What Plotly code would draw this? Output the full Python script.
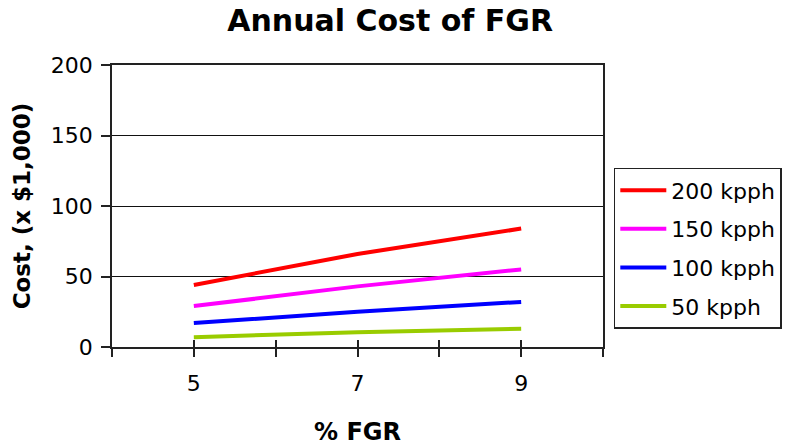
import plotly.graph_objects as go

# % flue gas recirculation
fgr_pct = [5, 7, 9]

# Annual cost (x $1,000) by boiler steam rate
cost_200 = [44, 66, 84]
cost_150 = [29, 43, 55]
cost_100 = [17, 25, 32]
cost_50 = [7, 10.5, 13]

series_names = ["200 kpph", "150 kpph", "100 kpph", "50 kpph"]
series_values = [cost_200, cost_150, cost_100, cost_50]
series_colors = ["#ff0000", "#ff00ff", "#0000ff", "#99cc00"]

x_tickvals = [4, 5, 6, 7, 8, 9, 10]
x_ticktext = ["", "5", "", "7", "", "9", ""]
y_tickvals = [0, 50, 100, 150, 200]

FONT = "DejaVu Sans, Arial, sans-serif"

fig = go.Figure()
for name, vals, color in zip(series_names, series_values, series_colors):
    fig.add_trace(go.Scatter(
        x=fgr_pct, y=vals, mode="lines", name=name,
        legendgroup=name,
        line=dict(color=color, width=4),
    ))

# invisible trace on a twin x-axis, used only for the inward half of the ticks
fig.add_trace(go.Scatter(x=[fgr_pct[0]], y=[0], xaxis="x2", mode="markers",
                         marker=dict(opacity=0), showlegend=False, hoverinfo="skip"))

fig.update_layout(
    width=785, height=446,
    margin=dict(l=112, r=182, t=65, b=99, autoexpand=False),
    paper_bgcolor="white", plot_bgcolor="white",
    font=dict(family=FONT, color="black", size=22),
    title=dict(text="<b>Annual Cost of FGR</b>", x=0.497, xanchor="center",
               y=0.953, yanchor="middle", font=dict(size=30, family=FONT)),
    xaxis=dict(
        range=[4, 10], tickmode="array", tickvals=x_tickvals, ticktext=x_ticktext,
        ticks="outside", ticklen=8, tickwidth=1.5, tickcolor="#222",
        showline=True, linecolor="#222", linewidth=1.5, mirror=True,
        showgrid=False, zeroline=False, automargin=False,
        tickfont=dict(size=22), ticklabelstandoff=8,
        title=dict(text="<b>% FGR</b>", font=dict(size=24), standoff=32),
    ),
    xaxis2=dict(
        range=[4, 10], overlaying="x", matches="x", tickmode="array",
        tickvals=x_tickvals, ticktext=[""] * len(x_tickvals),
        ticks="inside", ticklen=7, tickwidth=1.5, tickcolor="#222",
        showline=False, showgrid=False, zeroline=False, side="bottom",
        automargin=False,
    ),
    yaxis=dict(
        range=[0, 200], tickmode="array", tickvals=y_tickvals,
        ticks="outside", ticklen=9, tickwidth=1.5, tickcolor="#222",
        showline=True, linecolor="#222", linewidth=1.5, mirror=True,
        showgrid=True, gridcolor="#111", gridwidth=1.2, zeroline=False,
        automargin=False,
        tickfont=dict(size=22), ticklabelstandoff=4,
        title=dict(text="<b>Cost, (x $1,000)</b>", font=dict(size=23), standoff=14),
    ),
    legend=dict(
        x=1.022, xanchor="left", y=0.635, yanchor="top",
        bordercolor="#222", borderwidth=1.5, bgcolor="white",
        font=dict(size=22), traceorder="grouped", tracegroupgap=7,
        itemwidth=46,
    ),
    showlegend=True,
)

fig.write_html("out.html")
